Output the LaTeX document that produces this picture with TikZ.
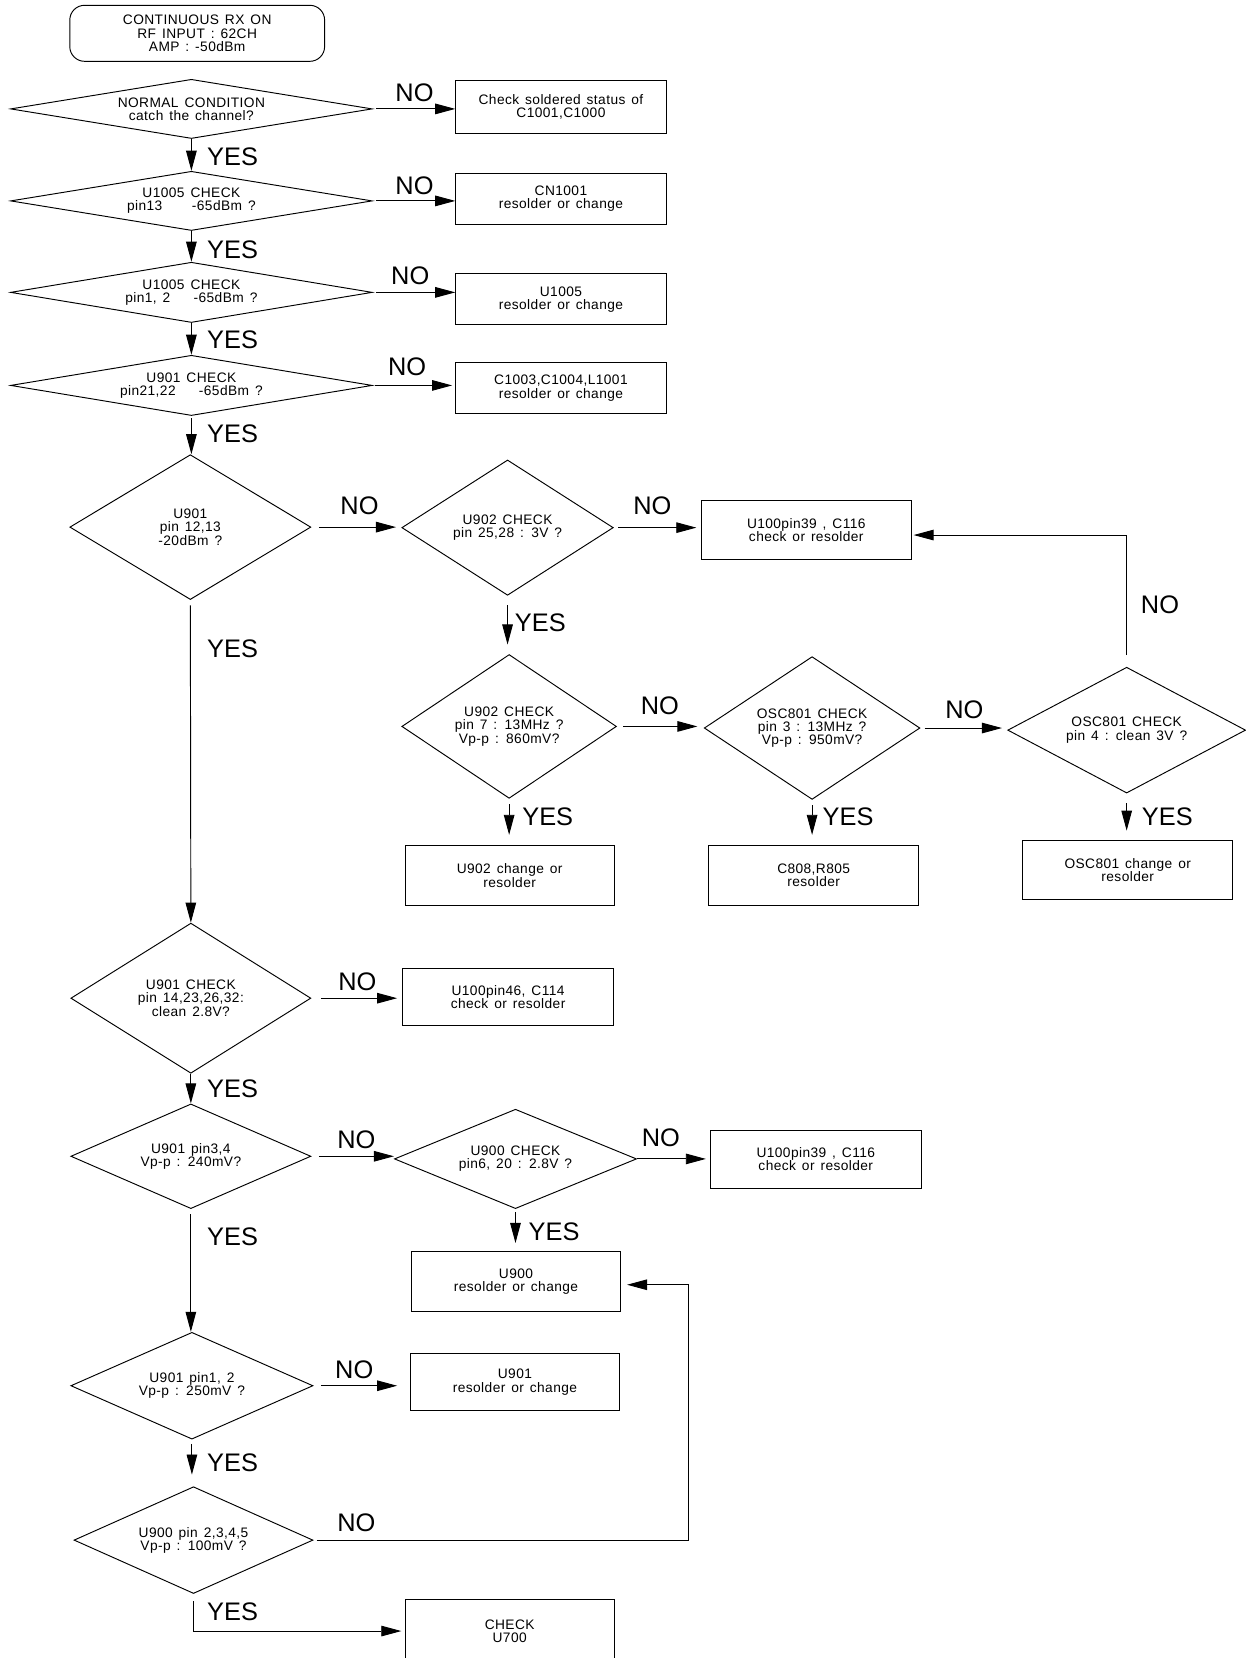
\documentclass[tikz,border=0pt]{standalone}
\usepackage{fontspec}
\setmainfont{Liberation Sans}
\newfontfamily\smallfont[LetterSpace=3,WordSpace=1.4]{Liberation Sans}
\usetikzlibrary{shapes.geometric,arrows.meta}
\begin{document}
\begin{tikzpicture}[x=1pt,y=-1pt,line width=0.9pt,
  every node/.style={font=\smallfont\fontsize{13}{12.5}\selectfont},
  dsize/.code 2 args={\pgfmathsetmacro\myasp{#1/#2}\pgfkeysalso{/tikz/minimum width=#1pt,/tikz/minimum height=#2pt,/pgf/shape aspect=\myasp}},
  dec/.style={draw,diamond,inner sep=0pt,align=center},
  box/.style={draw,rectangle,inner sep=0pt,align=center},
  bsize/.style 2 args={minimum width=#1pt,minimum height=#2pt},
  startbox/.style={draw,rectangle,rounded corners=14pt,inner sep=0pt,align=center,minimum width=241pt,minimum height=53pt},
  lab/.style={font=\rmfamily\fontsize{24}{24}\selectfont,inner sep=0pt},
  arr/.style={-{Triangle[length=19pt,width=10pt]}},
]
\useasboundingbox (0,0) rectangle (1178,1568);

\node[startbox] (s) at (186.5,31.5) {CONTINUOUS RX ON\\RF INPUT : 62CH\\AMP : -50dBm};

\node[dec,dsize={342}{56}] (d1) at (181,103) {NORMAL CONDITION\\catch the channel?};
\node[box,bsize={199}{50}] (b1) at (530.5,101) {Check soldered status of\\C1001,C1000};
\node[lab] (no1) at (392,88) {NO};
\node[lab] (yes1) at (220,148) {YES};

\node[dec,dsize={342}{56}] (d2) at (181,190) {U1005 CHECK\\pin13\hspace{28pt}-65dBm ?};
\node[box,bsize={199}{48}] (b2) at (530.5,188) {CN1001\\resolder or change};
\node[lab] (no2) at (392,176) {NO};
\node[lab] (yes2) at (220,236) {YES};

\node[dec,dsize={342}{57}] (d3) at (181,276.5) {U1005 CHECK\\pin1, 2\hspace{22pt}-65dBm ?};
\node[box,bsize={199}{48}] (b3) at (530.5,283) {U1005\\resolder or change};
\node[lab] (no3) at (388,261) {NO};
\node[lab] (yes3) at (220,321) {YES};

\node[dec,dsize={342}{57}] (d4) at (181,364.5) {U901 CHECK\\pin21,22\hspace{22pt}-65dBm ?};
\node[box,bsize={199}{48}] (b4) at (530.5,367) {C1003,C1004,L1001\\resolder or change};
\node[lab] (no4) at (385,347) {NO};
\node[lab] (yes4) at (220,410) {YES};

\node[dec,dsize={228}{137}] (d5) at (180,498.5) {U901\\pin 12,13\\-20dBm ?};
\node[lab] (no5) at (340,478) {NO};
\node[dec,dsize={200}{128}] (d6) at (480,499) {U902 CHECK\\pin 25,28 : 3V ?};
\node[lab] (no6) at (617,478) {NO};
\node[box,bsize={199}{56}] (b6) at (762.5,501) {U100pin39 , C116\\check or resolder};
\node[lab] (yes6) at (511,589) {YES};

\node[dec,dsize={203}{136}] (d7) at (481.5,687) {U902 CHECK\\pin 7 : 13MHz ?\\Vp-p : 860mV?};
\node[lab] (no7) at (624,667) {NO};
\node[dec,dsize={204}{135}] (d8) at (768,688.5) {OSC801 CHECK\\pin 3 : 13MHz ?\\Vp-p : 950mV?};
\node[lab] (no8) at (912,671) {NO};
\node[dec,dsize={225}{119}] (d9) at (1065.5,690.5) {OSC801 CHECK\\pin 4 : clean 3V ?};
\node[lab] (no9) at (1097,572) {NO};

\node[lab] (yes7) at (518,772) {YES};
\node[lab] (yes8) at (802,772) {YES};
\node[lab] (yes9) at (1104,772) {YES};
\node[box,bsize={198}{56}] (b7) at (482,828) {U902 change or\\resolder};
\node[box,bsize={199}{56}] (b8) at (769.5,828) {C808,R805\\resolder};
\node[box,bsize={199}{56}] (b9) at (1066.5,823) {OSC801 change or\\resolder};

\node[lab] (yes5) at (220,614) {YES};
\node[dec,dsize={227}{142}] (d10) at (180.5,944) {U901 CHECK\\pin 14,23,26,32:\\clean 2.8V?};
\node[lab] (no10) at (338,928) {NO};
\node[box,bsize={199}{54}] (b10) at (480.5,943) {U100pin46, C114\\check or resolder};
\node[lab] (yes10) at (220,1030) {YES};

\node[dec,dsize={227}{99}] (d11) at (180.5,1093.5) {U901 pin3,4\\Vp-p : 240mV?};
\node[lab] (no11) at (337,1078) {NO};
\node[dec,dsize={229}{94}] (d12) at (487.5,1096) {U900 CHECK\\pin6, 20 : 2.8V ?};
\node[lab] (no12) at (625,1076) {NO};
\node[box,bsize={199}{55}] (b12) at (771.5,1096.5) {U100pin39 , C116\\check or resolder};
\node[lab] (yes12) at (524,1165) {YES};
\node[box,bsize={198}{56}] (b13) at (488,1212) {U900\\resolder or change};
\node[lab] (yes11) at (220,1170) {YES};

\node[dec,dsize={229}{101}] (d13) at (181.5,1310.5) {U901 pin1, 2\\Vp-p : 250mV ?};
\node[lab] (no13) at (335,1295) {NO};
\node[box,bsize={198}{54}] (b14) at (487,1307) {U901\\resolder or change};
\node[lab] (yes13) at (220,1383) {YES};

\node[dec,dsize={226}{101}] (d14) at (183,1456.5) {U900 pin 2,3,4,5\\Vp-p : 100mV ?};
\node[lab] (no14) at (337,1440) {NO};
\node[lab] (yes14) at (220,1524) {YES};
\node[box,bsize={198}{59}] (b15) at (482,1542.5) {CHECK\\U700};
\coordinate (c1) at (651,1456.5);
\coordinate (c2) at (864,506);
\coordinate (c3) at (593,1215);

% connectors
\draw[arr,shorten <=3pt] (d1.east) -- (d1.east -| b1.west);
\draw[arr] (d1.south) -- (d2.north);
\draw[arr,shorten <=3pt] (d2.east) -- (d2.east -| b2.west);
\draw[arr] (d2.south) -- (d3.north);
\draw[arr,shorten <=3pt] (d3.east) -- (d3.east -| b3.west);
\draw[arr] (d3.south) -- (d4.north);
\draw[arr,shorten <=2pt,shorten >=3pt] (d4.east) -- (d4.east -| b4.west);
\draw[arr,shorten <=2pt] (d4.south) -- (d4.south |- d5.north);
\draw[arr,shorten <=7pt,shorten >=5pt] (d5.east) -- (d5.east -| d6.west);
\draw[arr,shorten <=4pt,shorten >=4pt] (d6.east) -- (d6.east -| b6.west);
\draw[arr,shorten <=9pt,shorten >=9pt] (d6.south) -- (d6.south |- d7.north);
\draw[arr,shorten <=6pt,shorten >=6pt] (d7.east) -- (d7.east -| d8.west);
\draw[arr,shorten <=4pt,shorten >=5pt] (d8.east) -- (d8.east -| d9.west);
\draw[arr,shorten <=11pt] (d9.north) |- (c2);
\draw[arr,shorten <=5pt,shorten >=10pt] (d7.south) -- (d7.south |- b7.north);
\draw[arr,shorten <=5pt,shorten >=10pt] (d8.south) -- (d8.south |- b8.north);
\draw[arr,shorten <=9pt,shorten >=9pt] (d9.south) -- (d9.south |- b9.north);
\draw[arr,shorten <=5pt] (d5.south) -- (d10.north);
\draw[arr,shorten <=9pt,shorten >=5pt] (d10.east) -- (d10.east -| b10.west);
\draw[arr] (d10.south) -- (d11.north);
\draw[arr,shorten <=7pt] (d11.east) -- (d11.east -| d12.west);
\draw[arr,shorten >=4pt] (d12.east) -- (d12.east -| b12.west);
\draw[arr,shorten <=3pt,shorten >=8pt] (d12.south) -- (d12.south |- b13.north);
\draw[arr,shorten <=5pt] (d11.south) -- (d11.south |- d13.north);
\draw[arr,shorten <=7pt,shorten >=12pt] (d13.east) -- (d13.east -| b14.west);
\draw[arr,shorten <=4pt,shorten >=11pt] (d13.south) -- (d13.south |- d14.north);
\draw[arr,shorten <=3pt] (d14.east) -- (c1) |- (c3);
\draw[arr,shorten <=7pt,shorten >=3pt] (d14.south) |- (b15.west);
\end{tikzpicture}
\end{document}
